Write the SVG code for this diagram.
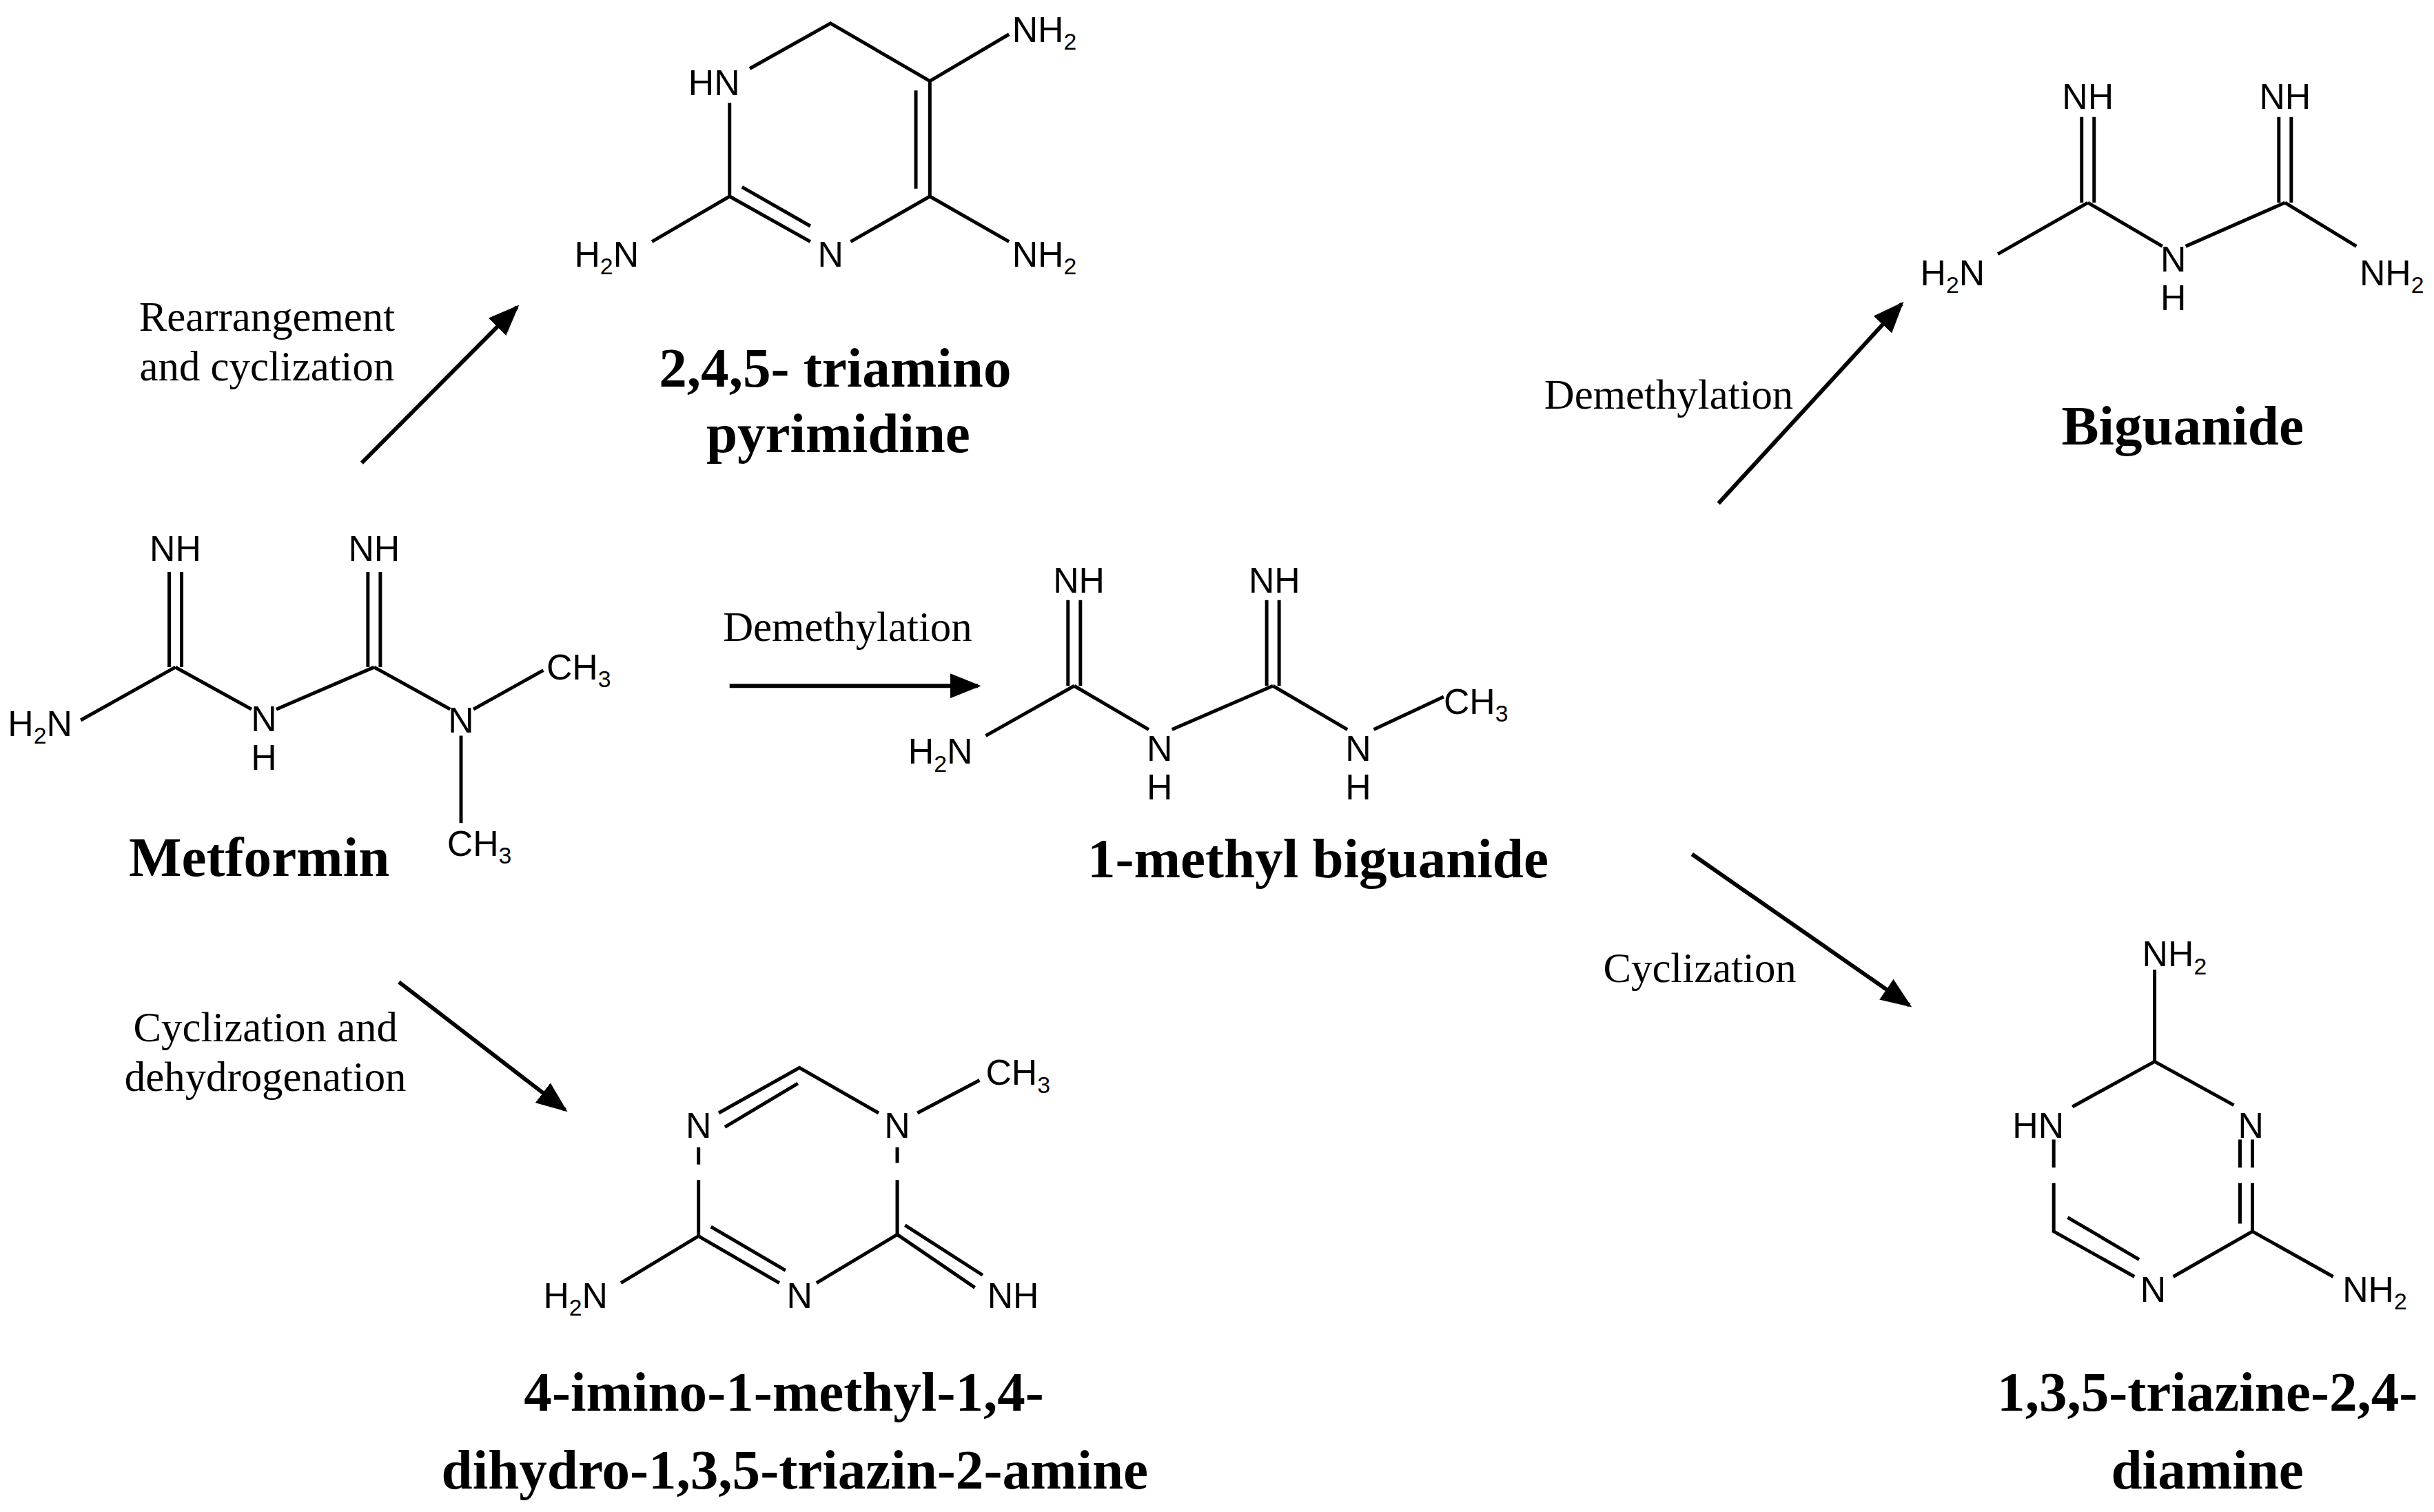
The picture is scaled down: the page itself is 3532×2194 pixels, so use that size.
<svg xmlns="http://www.w3.org/2000/svg" width="3532" height="2194" viewBox="0 0 3532 2194">
<style>
.b{stroke:#000;stroke-width:2.2;fill:none}
.ar{stroke:#000;stroke-width:2.6;fill:none}
.a{font-family:"Liberation Sans",Arial,sans-serif;font-size:23px;fill:#000}
.s{font-size:15px}
.c{font-family:"Liberation Serif","Times New Roman",serif;font-size:36px;font-weight:bold;fill:#000;text-anchor:middle}
.l{font-family:"Liberation Serif","Times New Roman",serif;font-size:27px;fill:#000;text-anchor:middle}
.m{text-anchor:middle}
</style>
<defs>
<marker id="ah" markerUnits="userSpaceOnUse" markerWidth="20" markerHeight="16" refX="18" refY="8" orient="auto">
<path d="M0,0 L20,8 L0,16 Z" fill="#000"/>
</marker>
</defs>
<rect width="3532" height="2194" fill="#fff"/>
<g transform="scale(2.2526,2.2619)">
<g id="connectors">
<line class="ar" x1="233" y1="297" x2="333" y2="197" marker-end="url(#ah)"/>
<line class="ar" x1="470" y1="440" x2="630" y2="440" marker-end="url(#ah)"/>
<line class="ar" x1="1107" y1="323" x2="1225" y2="195" marker-end="url(#ah)"/>
<line class="ar" x1="1090" y1="548" x2="1230" y2="645" marker-end="url(#ah)"/>
<line class="ar" x1="257" y1="630" x2="364" y2="712" marker-end="url(#ah)"/>
<text class="l" x="172" y="212">Rearrangement</text>
<text class="l" x="172" y="244">and cyclization</text>
<text class="l" x="546" y="411">Demethylation</text>
<text class="l" x="1075" y="262">Demethylation</text>
<text class="l" x="1095" y="630">Cyclization</text>
<text class="l" x="171" y="668">Cyclization and</text>
<text class="l" x="171" y="700">dehydrogenation</text>
</g>
<g id="metformin">
<path class="b" d="M109,367V428M117,367V428M113,428L52,462M113,428L162,455M178,455L241,428M237,367V428M245,367V428M241,428L290,455M305,455L350,430M297,472V528"/>
<text class="a m" x="113" y="360">NH</text>
<text class="a m" x="241" y="360">NH</text>
<text class="a" x="5" y="472">H<tspan class="s" dy="5">2</tspan><tspan dy="-5">N</tspan></text>
<text class="a m" x="170" y="469">N</text>
<text class="a m" x="170" y="494">H</text>
<text class="a m" x="297" y="470">N</text>
<text class="a" x="352" y="436">CH<tspan class="s" dy="5">3</tspan></text>
<text class="a" x="288" y="549">CH<tspan class="s" dy="5">3</tspan></text>
<text class="c" x="167" y="562">Metformin</text>
</g>
<g id="triaminopyrimidine">
<path class="b" d="M483,44L535,15L599,52L650,22M599,52V126M590,58V121M599,126L650,155M599,126L548,155M470,66V126L420,155M470,126L522,155M478,120L522,145"/>
<text class="a m" x="460" y="61">HN</text>
<text class="a" x="652" y="27">NH<tspan class="s" dy="5">2</tspan></text>
<text class="a" x="370" y="171">H<tspan class="s" dy="5">2</tspan><tspan dy="-5">N</tspan></text>
<text class="a m" x="535" y="171">N</text>
<text class="a" x="652" y="171">NH<tspan class="s" dy="5">2</tspan></text>
<text class="c" x="538" y="248">2,4,5- triamino</text>
<text class="c" x="540" y="290">pyrimidine</text>
</g>
<g id="methylbiguanide">
<path class="b" d="M688,385V440M696,385V440M692,440L635,472M692,440L740,468M755,468L820,440M816,385V440M824,385V440M820,440L868,468M885,468L930,447"/>
<text class="a m" x="695" y="380">NH</text>
<text class="a m" x="821" y="380">NH</text>
<text class="a" x="585" y="490">H<tspan class="s" dy="5">2</tspan><tspan dy="-5">N</tspan></text>
<text class="a m" x="747" y="488">N</text>
<text class="a m" x="747" y="513">H</text>
<text class="a m" x="875" y="488">N</text>
<text class="a m" x="875" y="513">H</text>
<text class="a" x="930" y="458">CH<tspan class="s" dy="5">3</tspan></text>
<text class="c" x="849" y="563">1-methyl biguanide</text>
</g>
<g id="biguanide">
<path class="b" d="M1341,75V130M1349,75V130M1345,130L1287,163M1345,130L1393,158M1408,158L1472,130M1468,75V130M1476,75V130M1472,130L1518,158"/>
<text class="a m" x="1345" y="70">NH</text>
<text class="a m" x="1472" y="70">NH</text>
<text class="a" x="1237" y="183">H<tspan class="s" dy="5">2</tspan><tspan dy="-5">N</tspan></text>
<text class="a m" x="1400" y="174">N</text>
<text class="a m" x="1400" y="199">H</text>
<text class="a" x="1520" y="183">NH<tspan class="s" dy="5">2</tspan></text>
<text class="c" x="1406" y="285">Biguanide</text>
</g>
<g id="iminotriazine">
<path class="b" d="M463,714L515,685L566,714M467,723L514,695M591,714L631,693M450,736V747M450,757V793L400,823M450,793L502,823M458,787L506,815M578,736V746M578,757V792L526,823M578,792L628,826M583,786L633,818"/>
<text class="a m" x="450" y="730">N</text>
<text class="a m" x="578" y="730">N</text>
<text class="a" x="635" y="696">CH<tspan class="s" dy="5">3</tspan></text>
<text class="a" x="350" y="839">H<tspan class="s" dy="5">2</tspan><tspan dy="-5">N</tspan></text>
<text class="a m" x="515" y="839">N</text>
<text class="a" x="636" y="839">NH</text>
<text class="c" x="505" y="905">4-imino-1-methyl-1,4-</text>
<text class="c" x="512" y="955">dihydro-1,3,5-triazin-2-amine</text>
</g>
<g id="triazinediamine">
<path class="b" d="M1388,622V681L1335,710M1388,681L1439,709M1323,731V749M1323,759V790L1375,819M1332,781L1378,808M1443,731V749M1443,759V785M1451,731V749M1451,759V790M1451,790L1400,819M1451,790L1503,819"/>
<text class="a" x="1380" y="620">NH<tspan class="s" dy="5">2</tspan></text>
<text class="a m" x="1313" y="730">HN</text>
<text class="a m" x="1450" y="730">N</text>
<text class="a m" x="1387" y="835">N</text>
<text class="a" x="1509" y="835">NH<tspan class="s" dy="5">2</tspan></text>
<text class="c" x="1422" y="905">1,3,5-triazine-2,4-</text>
<text class="c" x="1422" y="955">diamine</text>
</g>
</g>
</svg>
